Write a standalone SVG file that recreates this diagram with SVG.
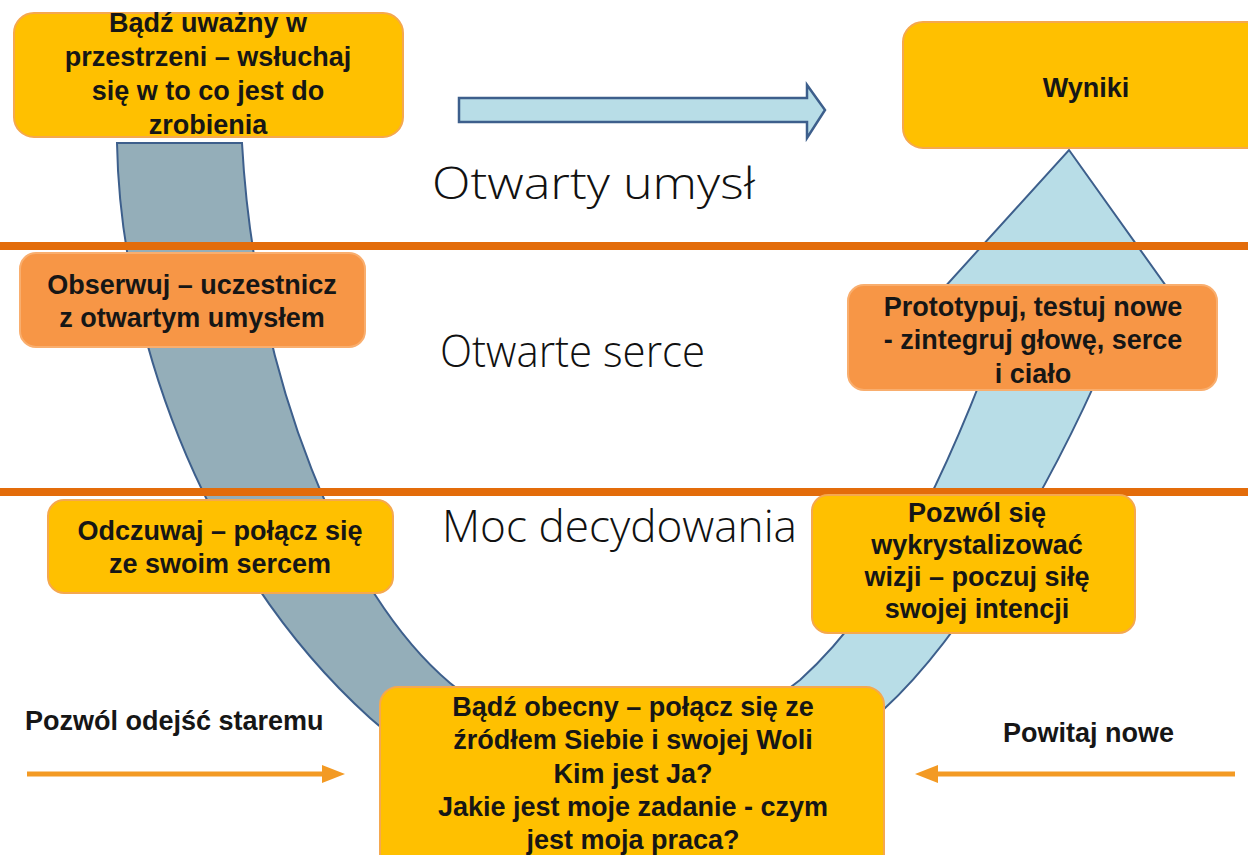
<svg xmlns="http://www.w3.org/2000/svg" width="1248" height="855" viewBox="0 0 1248 855">
<style>
.box{stroke-width:2}
.y{fill:#FFC000;stroke:#F5A84E}
.o{fill:#F79646;stroke:#F9AE6E}
.t{font-family:"Liberation Sans",Arial,sans-serif;font-weight:bold;font-size:27px;fill:#161616;text-anchor:middle;dominant-baseline:central}
.tl{font-family:"Liberation Sans",Arial,sans-serif;font-weight:bold;font-size:27px;fill:#161616;dominant-baseline:central}
.h{font-family:"Open Sans","DejaVu Sans",sans-serif;font-weight:300;font-size:44px;fill:#111}
.band{stroke:#E36C0A;stroke-width:8}
.oa{stroke:#F39A24;stroke-width:5;fill:none}
</style>
<defs>
<linearGradient id="ug" gradientUnits="userSpaceOnUse" x1="0" y1="0" x2="1248" y2="0">
<stop offset="0.5" stop-color="#94AEB9"/>
<stop offset="0.5" stop-color="#B8DDE7"/>
</linearGradient>
</defs>
<rect width="1248" height="855" fill="#fff"/>

<g id="connectors">
<path id="u-arrow" d="M117,143 C120,320 195,560 370,718 C470,810 780,810 883,710 C960,640 1060,480 1130,300 L1176,300 L1069,150 L933,300 L1011,300 C960,440 900,590 800,680 C700,760 540,760 450,683 C345,595 255,380 242,143 Z" fill="url(#ug)" stroke="#3D5F8C" stroke-width="2"/>
<path id="top-arrow" d="M459,98 L807,98 L807,85 L825,110 L807,138 L807,122 L459,122 Z" fill="#B8DDE7" stroke="#3D5F8C" stroke-width="2.5" stroke-linejoin="miter"/>
<g id="arrow-left">
<line class="oa" x1="27" y1="774" x2="325" y2="774"/>
<polygon points="322,765 345,774 322,783" fill="#F39A24"/>
</g>
<g id="arrow-right">
<line class="oa" x1="1235" y1="774" x2="935" y2="774"/>
<polygon points="938,765 915,774 938,783" fill="#F39A24"/>
</g>
</g>

<g id="bands">
<line class="band" x1="0" y1="246" x2="1248" y2="246"/>
<line class="band" x1="0" y1="492" x2="1248" y2="492"/>
</g>

<g id="labels">
<text class="h" x="432" y="199" textLength="323" lengthAdjust="spacingAndGlyphs">Otwarty umysł</text>
<text class="h" x="440" y="367" textLength="265" lengthAdjust="spacingAndGlyphs">Otwarte serce</text>
<text class="h" x="442" y="542" textLength="355" lengthAdjust="spacingAndGlyphs">Moc decydowania</text>
<text class="tl" x="25" y="721">Pozwól odejść staremu</text>
<text class="tl" x="1003" y="733">Powitaj nowe</text>
</g>

<g id="n-uwazny">
<rect class="box y" x="14" y="13" width="389" height="124" rx="20"/>
<text class="t" x="208" y="23">Bądź uważny w</text>
<text class="t" x="208" y="57">przestrzeni – wsłuchaj</text>
<text class="t" x="208" y="91">się w to co jest do</text>
<text class="t" x="208" y="125">zrobienia</text>
</g>

<g id="n-wyniki">
<rect class="box y" x="903" y="22" width="400" height="126" rx="20"/>
<text class="t" x="1086" y="88">Wyniki</text>
</g>

<g id="n-obserwuj">
<rect class="box o" x="20" y="253" width="345" height="94" rx="16"/>
<text class="t" x="192" y="285">Obserwuj – uczestnicz</text>
<text class="t" x="192" y="318">z otwartym umysłem</text>
</g>

<g id="n-prototypuj">
<rect class="box o" x="848" y="285" width="369" height="105" rx="16"/>
<text class="t" x="1033" y="307">Prototypuj, testuj nowe</text>
<text class="t" x="1033" y="340">- zintegruj głowę, serce</text>
<text class="t" x="1033" y="374">i ciało</text>
</g>

<g id="n-odczuwaj">
<rect class="box y" x="48" y="500" width="345" height="93" rx="16"/>
<text class="t" x="220" y="531">Odczuwaj – połącz się</text>
<text class="t" x="220" y="564">ze swoim sercem</text>
</g>

<g id="n-pozwol">
<rect class="box y" x="812" y="495" width="323" height="138" rx="16"/>
<text class="t" x="977" y="513">Pozwól się</text>
<text class="t" x="977" y="545">wykrystalizować</text>
<text class="t" x="977" y="577">wizji – poczuj siłę</text>
<text class="t" x="977" y="609">swojej intencji</text>
</g>

<g id="n-obecny">
<rect class="box y" x="380" y="687" width="504" height="200" rx="18"/>
<text class="t" x="633" y="707">Bądź obecny – połącz się ze</text>
<text class="t" x="633" y="740">źródłem Siebie i swojej Woli</text>
<text class="t" x="633" y="774">Kim jest Ja?</text>
<text class="t" x="633" y="807">Jakie jest moje zadanie - czym</text>
<text class="t" x="633" y="840">jest moja praca?</text>
</g>
</svg>
